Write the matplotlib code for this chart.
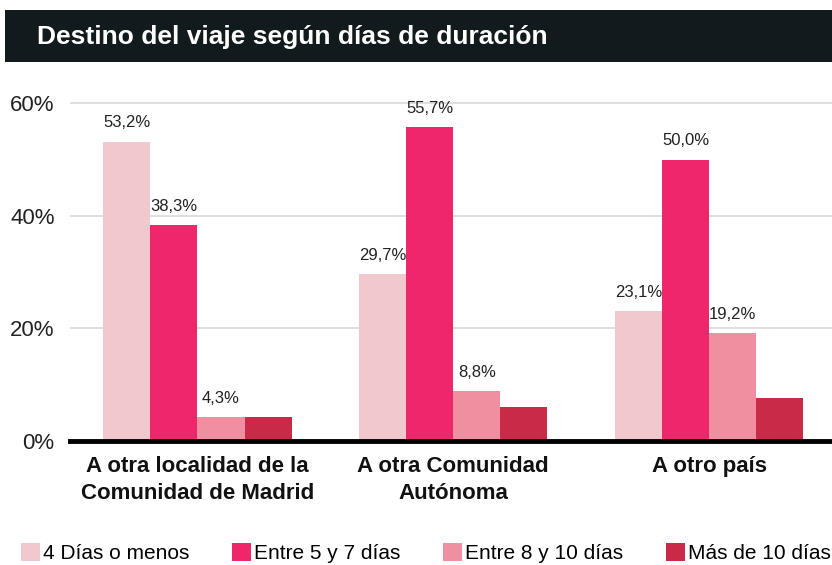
import matplotlib.pyplot as plt
import numpy as np
from matplotlib.patches import Rectangle

plt.rcParams["font.family"] = ["Liberation Sans", "DejaVu Sans"]

categories = ["A otra localidad de la\nComunidad de Madrid", "A otra Comunidad\nAutónoma", "A otro país"]
series_names = ["4 Días o menos", "Entre 5 y 7 días", "Entre 8 y 10 días", "Más de 10 días"]
dias_4_menos = [53.2, 29.7, 23.1]
entre_5_7 = [38.3, 55.7, 50.0]
entre_8_10 = [4.3, 8.8, 19.2]
mas_10 = [4.3, 6.0, 7.7]
show_labels = [True, True, True, False]
colors = ["#f0c8cd", "#ee266b", "#ef8fa0", "#c92a48"]
yticks = [0, 20, 40, 60]

fig = plt.figure(figsize=(8.32, 5.65), dpi=100)
fig.patches.append(Rectangle((5 / 832, 1 - 62 / 565), 1, 52 / 565, transform=fig.transFigure,
                             facecolor="#111a1c", edgecolor="none", zorder=0))
fig.text(37 / 832, 1 - 37 / 565, "Destino del viaje según días de duración", color="white",
         fontsize=19, fontweight="bold", va="center", ha="left")

ax = fig.add_axes([70 / 832, 1 - 441 / 565, 1 - 70 / 832, (441 - 92) / 565])

x = np.arange(len(categories))
w = 0.184
data = [dias_4_menos, entre_5_7, entre_8_10, mas_10]
for i, (vals, name, col, lab) in enumerate(zip(data, series_names, colors, show_labels)):
    pos = x + (i - 1.5) * w
    bars = ax.bar(pos, vals, width=w, color=col, label=name, zorder=3)
    if lab:
        for b, v in zip(bars, vals):
            ax.annotate(f"{v:.1f}%".replace(".", ","), (b.get_x() + b.get_width() / 2, v),
                        xytext=(0, 8), textcoords="offset points", ha="center", va="bottom",
                        fontsize=12, color="#222222")

ax.set_xlim(-0.498, 2.48)
ax.set_ylim(0, 62)
ax.set_yticks(yticks)
ax.set_yticklabels([f"{t}%" for t in yticks], fontsize=16, color="#222222")
ax.grid(axis="y", color="#d9d9d9", linewidth=1.2, zorder=0)
ax.set_xticks(x)
ax.set_xticklabels(categories, fontsize=16, fontweight="bold", color="#111111", linespacing=1.35)
ax.tick_params(axis="both", length=0)
ax.tick_params(axis="x", pad=11)
ax.tick_params(axis="y", pad=11)
for s in ["top", "right", "left"]:
    ax.spines[s].set_visible(False)
ax.spines["bottom"].set_linewidth(3.5)
ax.spines["bottom"].set_color("black")
ax.spines["bottom"].set_zorder(5)

fig.legend(loc="lower center", bbox_to_anchor=(0.512, -0.03), ncol=4, frameon=False,
           fontsize=15, handlelength=0.9, handleheight=0.9, handletextpad=0.15,
           columnspacing=2.05)

fig.savefig("out.png", dpi=100)
